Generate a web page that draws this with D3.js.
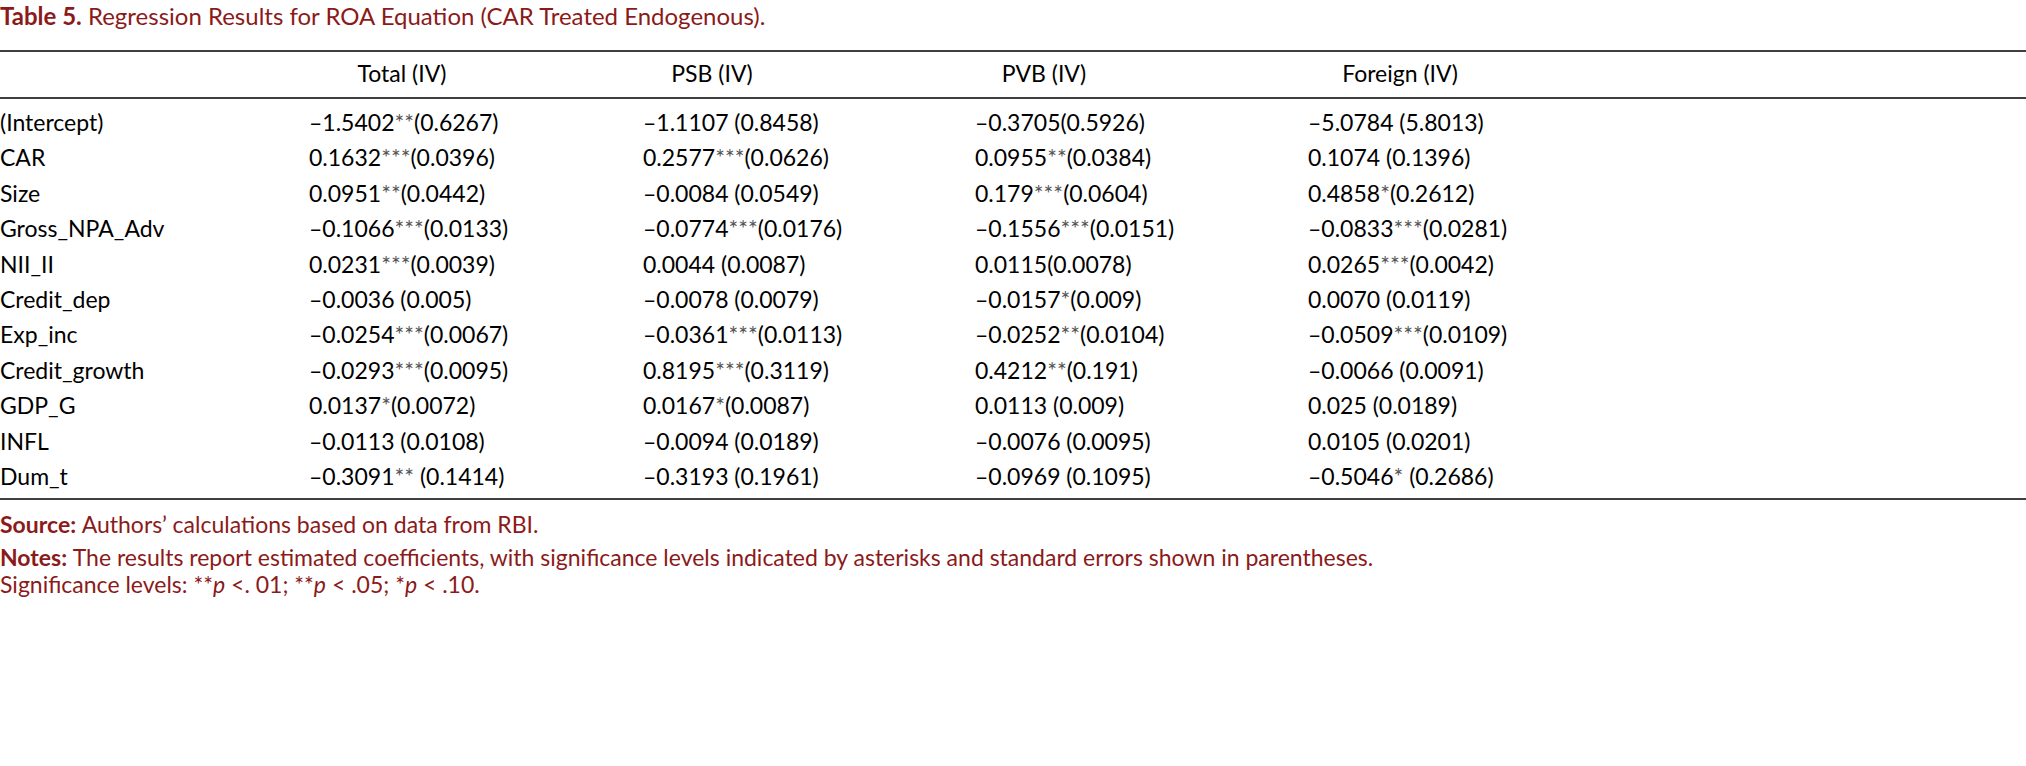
<!DOCTYPE html>
<html><head><meta charset="utf-8">
<script src="https://cdn.jsdelivr.net/npm/d3@7"></script>
<style>body{margin:0;background:#fff}svg{font-family:Lato,"Open Sans",sans-serif}</style>
</head><body>
<script>
const titleBold = "Table 5.";
const titleText = "Regression Results for ROA Equation (CAR Treated Endogenous).";
const columns = ["Total (IV)", "PSB (IV)", "PVB (IV)", "Foreign (IV)"];
const rowLabels = ["(Intercept)","CAR","Size","Gross_NPA_Adv","NII_II","Credit_dep","Exp_inc","Credit_growth","GDP_G","INFL","Dum_t"];
const totalIV = ["–1.5402**(0.6267)","0.1632***(0.0396)","0.0951**(0.0442)","–0.1066***(0.0133)","0.0231***(0.0039)","–0.0036 (0.005)","–0.0254***(0.0067)","–0.0293***(0.0095)","0.0137*(0.0072)","–0.0113 (0.0108)","–0.3091** (0.1414)"];
const psbIV = ["–1.1107 (0.8458)","0.2577***(0.0626)","–0.0084 (0.0549)","–0.0774***(0.0176)","0.0044 (0.0087)","–0.0078 (0.0079)","–0.0361***(0.0113)","0.8195***(0.3119)","0.0167*(0.0087)","–0.0094 (0.0189)","–0.3193 (0.1961)"];
const pvbIV = ["–0.3705(0.5926)","0.0955**(0.0384)","0.179***(0.0604)","–0.1556***(0.0151)","0.0115(0.0078)","–0.0157*(0.009)","–0.0252**(0.0104)","0.4212**(0.191)","0.0113 (0.009)","–0.0076 (0.0095)","–0.0969 (0.1095)"];
const foreignIV = ["–5.0784 (5.8013)","0.1074 (0.1396)","0.4858*(0.2612)","–0.0833***(0.0281)","0.0265***(0.0042)","0.0070 (0.0119)","–0.0509***(0.0109)","–0.0066 (0.0091)","0.025 (0.0189)","0.0105 (0.0201)","–0.5046* (0.2686)"];
const colData = [totalIV, psbIV, pvbIV, foreignIV];

const W = 2026, H = 766, red = "#8b1a1a";
const svg = d3.select("body").append("svg").attr("width", W).attr("height", H);
const fs = 23;
const x = d3.scaleOrdinal().domain(columns).range([309, 643, 975, 1308]);
const headOff = [93, 69, 69, 92];
const y = d3.scaleBand().domain(rowLabels).range([105, 495]).paddingInner(0);

const t = svg.append("text").attr("x", 0).attr("y", 25).attr("font-size", 24).attr("fill", red);
t.append("tspan").attr("font-weight", "bold").text(titleBold);
t.append("tspan").text("  " + titleText);

const rule = yy => svg.append("line").attr("x1", 0).attr("x2", W).attr("y1", yy).attr("y2", yy).attr("stroke", "#000").attr("stroke-width", 1.3);
rule(51); rule(98); rule(499);

svg.selectAll("text.h").data(columns).enter().append("text").attr("class", "h")
  .attr("x", (d, i) => x(d) + headOff[i]).attr("y", 82).attr("text-anchor", "middle")
  .attr("font-size", fs).text(d => d);

svg.selectAll("text.r").data(rowLabels).enter().append("text").attr("class", "r")
  .attr("x", 0).attr("y", d => y(d) + y.bandwidth() / 2 + 8).attr("font-size", fs).text(d => d);

function cell(sel, s) {
  const parts = s.split(/(\*+)/);
  parts.forEach(p => { if (p) sel.append("tspan").attr("fill", p.startsWith("*") ? "#555" : "#000").text(p); });
}
columns.forEach((c, ci) => {
  svg.selectAll("text.c" + ci).data(colData[ci]).enter().append("text")
    .attr("x", x(c)).attr("y", (d, i) => y(rowLabels[i]) + y.bandwidth() / 2 + 8).attr("font-size", fs)
    .each(function (d) { cell(d3.select(this), d); });
});

const foot = (yy, b, rest) => {
  const tx = svg.append("text").attr("x", 0).attr("y", yy).attr("font-size", fs).attr("fill", red);
  if (b) tx.append("tspan").attr("font-weight", "bold").text(b + " ");
  rest.forEach(r => tx.append("tspan").attr("font-style", r[1] ? "italic" : "normal").text(r[0]));
};
foot(533, "Source:", [["Authors’ calculations based on data from RBI.", 0]]);
foot(566, "Notes:", [["The results report estimated coefficients, with significance levels indicated by asterisks and standard errors shown in parentheses.", 0]]);
foot(593, "", [["Significance levels: **", 0], ["p", 1], [" <. 01; **", 0], ["p", 1], [" < .05; *", 0], ["p", 1], [" < .10.", 0]]);
</script>
</body></html>
